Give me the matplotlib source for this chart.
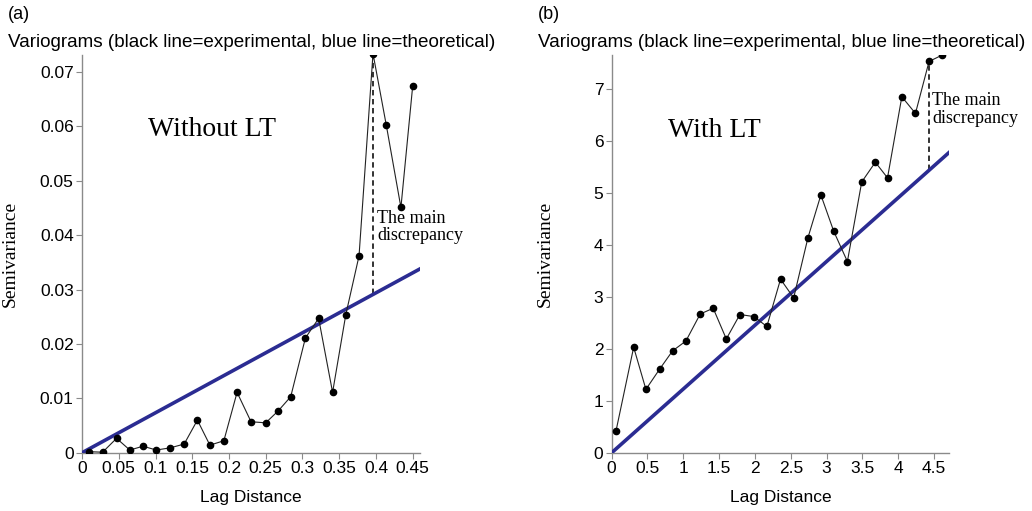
import numpy as np
import matplotlib.pyplot as plt
from matplotlib.ticker import FuncFormatter

# (a) without LT
lag_a = [0.0095, 0.028, 0.047, 0.065, 0.083, 0.101, 0.120, 0.139, 0.157, 0.174,
         0.193, 0.211, 0.230, 0.250, 0.267, 0.284, 0.304, 0.322, 0.341, 0.359,
         0.377, 0.396, 0.414, 0.434, 0.450]
semi_a = [0.0002, 0.0001, 0.00265, 0.0005, 0.0012, 0.0005, 0.0009, 0.0016, 0.0060, 0.0014,
          0.0022, 0.0111, 0.0057, 0.0055, 0.0077, 0.0103, 0.0211, 0.0247, 0.0111, 0.0254,
          0.0362, 0.0734, 0.0603, 0.0451, 0.0674]
theo_a = [0.0, 0.460]
slope_a = 0.0735

# (b) with LT
lag_b = [0.06, 0.307, 0.478, 0.67, 0.85, 1.036, 1.236, 1.417, 1.60, 1.79,
         1.985, 2.166, 2.357, 2.54, 2.74, 2.92, 3.10, 3.29, 3.49, 3.68,
         3.85, 4.05, 4.24, 4.43, 4.61]
semi_b = [0.416, 2.03, 1.22, 1.61, 1.96, 2.15, 2.67, 2.78, 2.19, 2.66,
          2.62, 2.43, 3.34, 2.98, 4.14, 4.96, 4.26, 3.68, 5.21, 5.59,
          5.29, 6.85, 6.53, 7.53, 7.65]
theo_b = [0.0, 4.72]
slope_b = 1.227

title = 'Variograms (black line=experimental, blue line=theoretical)'
sans = 'Liberation Sans'
serif = 'Liberation Serif'
blue = '#2b2c92'
gray = '#8a8a8a'

fig = plt.figure(figsize=(10.32, 5.11), dpi=100)
ax1 = fig.add_axes([0.0795, 0.114, 0.3275, 0.778])
ax2 = fig.add_axes([0.5927, 0.114, 0.327, 0.778])

fmt = FuncFormatter(lambda v, p: '%g' % round(v, 4))


def draw(ax, lag, semi, theo, slope, peak_i, xmax, ymax, xt, yt, label, lab_xy,
         note_xy, tag, ylab_x):
    tx = np.array(theo)
    ax.plot(tx, tx * slope, color=blue, lw=2.6, zorder=3)
    ax.plot(lag, semi, color='#222222', lw=0.8, marker='o', ms=4.5,
            mfc='black', mec='black', zorder=4)
    xp = lag[peak_i]
    ax.plot([xp, xp], [xp * slope, semi[peak_i]], color='#222222', lw=1.3,
            ls=(0, (3, 2)), zorder=2)
    ax.set_xlim(0, xmax)
    ax.set_ylim(0, ymax)
    ax.set_xticks(xt)
    ax.set_yticks(yt)
    ax.xaxis.set_major_formatter(fmt)
    ax.yaxis.set_major_formatter(fmt)
    for s in ['top', 'right']:
        ax.spines[s].set_visible(False)
    for s in ['left', 'bottom']:
        ax.spines[s].set_color(gray)
        ax.spines[s].set_linewidth(1.0)
    ax.tick_params(length=4, width=0.8, color=gray, labelsize=12.5, pad=2)
    for t in ax.get_xticklabels() + ax.get_yticklabels():
        t.set_fontfamily(sans)
    ax.set_xlabel('Lag Distance', fontfamily=sans, fontsize=12.5, labelpad=10)
    ax.set_ylabel('Semivariance', fontfamily=serif, fontsize=14)
    ax.yaxis.set_label_coords(ylab_x, 0.5)
    ax.text(lab_xy[0], lab_xy[1], label, fontfamily=serif, fontsize=20,
            va='center', ha='left')
    ax.text(note_xy[0], note_xy[1], 'The main\ndiscrepancy', fontfamily=serif,
            fontsize=13, va='center', ha='left', linespacing=1.05)
    ax.text(-0.218, 1.08, tag, transform=ax.transAxes, fontfamily=sans,
            fontsize=13, ha='left', va='bottom')
    ax.text(-0.218, 1.01, title, transform=ax.transAxes, fontfamily=sans,
            fontsize=13.6, ha='left', va='bottom')


draw(ax1, lag_a, semi_a, theo_a, slope_a, 21, 0.46, 0.0731,
     [0, 0.05, 0.1, 0.15, 0.2, 0.25, 0.3, 0.35, 0.4, 0.45],
     [0, 0.01, 0.02, 0.03, 0.04, 0.05, 0.06, 0.07],
     'Without LT', (0.09, 0.0594), (0.402, 0.0415), '(a)', -0.186)
draw(ax2, lag_b, semi_b, theo_b, slope_b, 23, 4.71, 7.65,
     [0, 0.5, 1, 1.5, 2, 2.5, 3, 3.5, 4, 4.5],
     [0, 1, 2, 3, 4, 5, 6, 7],
     'With LT', (0.78, 6.2), (4.47, 6.6), '(b)', -0.171)

fig.savefig('out.png', dpi=100)
